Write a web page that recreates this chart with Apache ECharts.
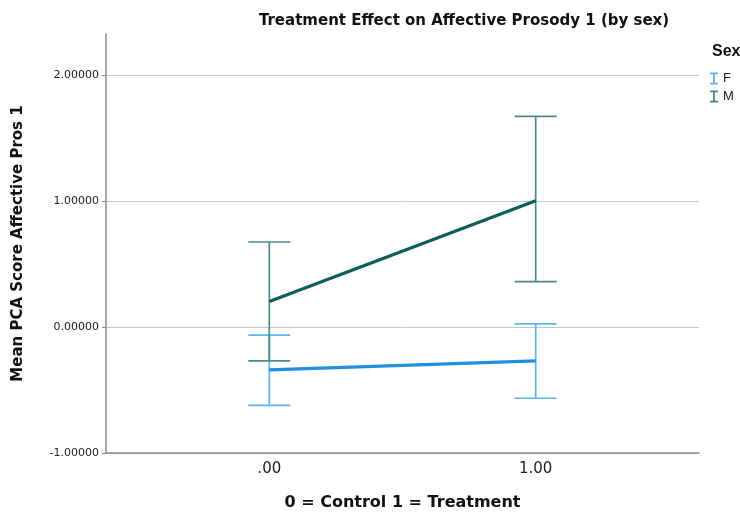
<!DOCTYPE html>
<html><head><meta charset="utf-8">
<script src="https://cdn.jsdelivr.net/npm/echarts@6/dist/echarts.min.js"></script>
<style>html,body{margin:0;padding:0;background:#fff}#c{width:740px;height:516px}</style>
</head><body><div id="c"></div>
<script>
const groups = [0, 1];
const groupLabels = {0: '.00', 1: '1.00'};
const seriesNames = ['F', 'M'];
const meanF = [-0.339, -0.268];
const upperF = [-0.063, 0.026];
const lowerF = [-0.622, -0.565];
const meanM = [0.205, 1.005];
const upperM = [0.677, 1.675];
const lowerM = [-0.268, 0.362];
const yTicks = [-1, 0, 1, 2];
const xTicks = [0, 1];

const lineColors = {F: '#1f8fe0', M: '#0c5f57'};
const barColors = {F: '#5fb2ee', M: '#4a8a84'};

const chart = echarts.init(document.getElementById('c'), null, {renderer: 'canvas'});
const iconI = 'path://M0,0h8v1.8h-3.1v8.4h3.1v1.8h-8v-1.8h3.1v-8.4h-3.1z';

function errSeries(name, lo, hi) {
  return {
    type: 'custom', name: name, silent: true, z: 3,
    data: groups.map((g, i) => [g, lo[i], hi[i]]),
    renderItem: function (params, api) {
      const x = api.value(0);
      const pLo = api.coord([x, api.value(1)]);
      const pHi = api.coord([x, api.value(2)]);
      const hw = 21;
      const st = {stroke: barColors[name], lineWidth: 1.7};
      return {type: 'group', children: [
        {type: 'line', shape: {x1: pLo[0], y1: pLo[1], x2: pHi[0], y2: pHi[1]}, style: st},
        {type: 'line', shape: {x1: pLo[0] - hw, y1: pLo[1], x2: pLo[0] + hw, y2: pLo[1]}, style: st},
        {type: 'line', shape: {x1: pHi[0] - hw, y1: pHi[1], x2: pHi[0] + hw, y2: pHi[1]}, style: st}
      ]};
    }
  };
}
function lineSeries(name, means) {
  return {
    type: 'line', name: name, z: 4, symbol: 'none', silent: true,
    data: groups.map((g, i) => [g, means[i]]),
    lineStyle: {color: lineColors[name], width: 3.2},
    itemStyle: {color: barColors[name]}
  };
}

chart.setOption({
  animation: false,
  title: [
    {text: 'Treatment Effect on Affective Prosody 1 (by sex)', left: 459, top: 9, textAlign: 'center',
     textStyle: {fontFamily: 'DejaVu Sans', fontWeight: 'bold', fontSize: 15, color: '#111'}},
    {text: 'Sex', left: 707, top: 39,
     textStyle: {fontFamily: 'Liberation Sans', fontWeight: 'bold', fontSize: 16, color: '#111'}}
  ],
  legend: {
    orient: 'vertical', left: 705, top: 67, itemWidth: 8, itemHeight: 12, itemGap: 5,
    data: seriesNames.map(n => ({name: n, icon: iconI, itemStyle: {color: barColors[n]}})),
    textStyle: {fontFamily: 'Liberation Sans', fontSize: 13, color: '#222', padding: [0, 0, 0, 0]}
  },
  grid: {left: 106, right: 41, top: 34, bottom: 59, containLabel: false},
  xAxis: {
    type: 'value', min: -0.613, max: 1.613,
    name: '0 = Control 1 = Treatment', nameLocation: 'middle', nameGap: 42,
    nameTextStyle: {fontFamily: 'DejaVu Sans', fontWeight: 'bold', fontSize: 16, color: '#111'},
    axisLine: {show: true, onZero: false, lineStyle: {color: '#8a8a8a', width: 1.5}},
    axisTick: {show: false},
    splitLine: {show: false},
    axisLabel: {customValues: xTicks, formatter: v => groupLabels[v], fontFamily: 'DejaVu Sans', fontSize: 15, color: '#222', margin: 9}
  },
  yAxis: {
    type: 'value', min: -1, max: 2.33,
    name: 'Mean PCA Score Affective Pros 1', nameLocation: 'middle', nameGap: 80,
    nameTextStyle: {fontFamily: 'DejaVu Sans', fontWeight: 'bold', fontSize: 15, color: '#111'},
    axisLine: {show: true, onZero: false, lineStyle: {color: '#8a8a8a', width: 1.5}},
    axisTick: {show: true, customValues: yTicks, length: 4, lineStyle: {color: '#8a8a8a'}},
    splitLine: {show: true, lineStyle: {color: '#c8c8c8', width: 1}},
    axisLabel: {customValues: yTicks, formatter: v => v.toFixed(5), fontFamily: 'DejaVu Sans', fontSize: 11, color: '#222', margin: 7}
  },
  series: [
    errSeries('F', lowerF, upperF),
    errSeries('M', lowerM, upperM),
    lineSeries('F', meanF),
    lineSeries('M', meanM)
  ]
});
</script></body></html>
